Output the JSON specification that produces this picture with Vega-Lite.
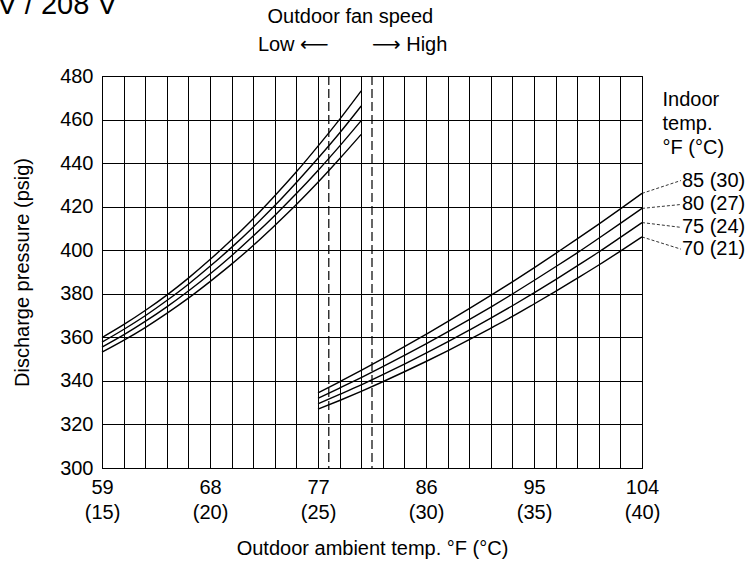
{
  "$schema": "https://vega.github.io/schema/vega-lite/v6.json",
  "width": 540,
  "height": 392,
  "autosize": {"type": "none"},
  "padding": {"left": 102, "top": 76, "right": 109, "bottom": 99},
  "background": "white",
  "config": {
    "font": "Liberation Sans",
    "view": {"stroke": "black", "strokeWidth": 1},
    "axis": {
      "labelFont": "Liberation Sans",
      "titleFont": "Liberation Sans",
      "labelFontSize": 20,
      "titleFontSize": 20,
      "titleFontWeight": "normal",
      "labelColor": "black",
      "titleColor": "black",
      "domainColor": "black",
      "gridColor": "black",
      "gridOpacity": 1,
      "gridWidth": 1,
      "ticks": false
    },
    "text": {"font": "Liberation Sans", "fontSize": 20, "color": "black"}
  },
  "datasets": {
    "curves": [
      {"indoor": "85 (30)", "fan": "Low", "t": 15, "p": 359.9},
      {"indoor": "85 (30)", "fan": "Low", "t": 16, "p": 365.8},
      {"indoor": "85 (30)", "fan": "Low", "t": 17, "p": 372.3},
      {"indoor": "85 (30)", "fan": "Low", "t": 18, "p": 379.4},
      {"indoor": "85 (30)", "fan": "Low", "t": 19, "p": 387.2},
      {"indoor": "85 (30)", "fan": "Low", "t": 20, "p": 395.7},
      {"indoor": "85 (30)", "fan": "Low", "t": 21, "p": 404.8},
      {"indoor": "85 (30)", "fan": "Low", "t": 22, "p": 414.5},
      {"indoor": "85 (30)", "fan": "Low", "t": 23, "p": 425.0},
      {"indoor": "85 (30)", "fan": "Low", "t": 24, "p": 436.0},
      {"indoor": "85 (30)", "fan": "Low", "t": 25, "p": 447.8},
      {"indoor": "85 (30)", "fan": "Low", "t": 26, "p": 460.1},
      {"indoor": "85 (30)", "fan": "Low", "t": 27, "p": 473.2},
      {"indoor": "80 (27)", "fan": "Low", "t": 15, "p": 357.8},
      {"indoor": "80 (27)", "fan": "Low", "t": 16, "p": 363.6},
      {"indoor": "80 (27)", "fan": "Low", "t": 17, "p": 369.9},
      {"indoor": "80 (27)", "fan": "Low", "t": 18, "p": 376.9},
      {"indoor": "80 (27)", "fan": "Low", "t": 19, "p": 384.4},
      {"indoor": "80 (27)", "fan": "Low", "t": 20, "p": 392.6},
      {"indoor": "80 (27)", "fan": "Low", "t": 21, "p": 401.3},
      {"indoor": "80 (27)", "fan": "Low", "t": 22, "p": 410.6},
      {"indoor": "80 (27)", "fan": "Low", "t": 23, "p": 420.5},
      {"indoor": "80 (27)", "fan": "Low", "t": 24, "p": 431.1},
      {"indoor": "80 (27)", "fan": "Low", "t": 25, "p": 442.2},
      {"indoor": "80 (27)", "fan": "Low", "t": 26, "p": 453.8},
      {"indoor": "80 (27)", "fan": "Low", "t": 27, "p": 466.2},
      {"indoor": "75 (24)", "fan": "Low", "t": 15, "p": 355.5},
      {"indoor": "75 (24)", "fan": "Low", "t": 16, "p": 361.1},
      {"indoor": "75 (24)", "fan": "Low", "t": 17, "p": 367.3},
      {"indoor": "75 (24)", "fan": "Low", "t": 18, "p": 374.0},
      {"indoor": "75 (24)", "fan": "Low", "t": 19, "p": 381.3},
      {"indoor": "75 (24)", "fan": "Low", "t": 20, "p": 389.1},
      {"indoor": "75 (24)", "fan": "Low", "t": 21, "p": 397.5},
      {"indoor": "75 (24)", "fan": "Low", "t": 22, "p": 406.5},
      {"indoor": "75 (24)", "fan": "Low", "t": 23, "p": 416.0},
      {"indoor": "75 (24)", "fan": "Low", "t": 24, "p": 426.0},
      {"indoor": "75 (24)", "fan": "Low", "t": 25, "p": 436.6},
      {"indoor": "75 (24)", "fan": "Low", "t": 26, "p": 447.8},
      {"indoor": "75 (24)", "fan": "Low", "t": 27, "p": 459.5},
      {"indoor": "70 (21)", "fan": "Low", "t": 15, "p": 353.2},
      {"indoor": "70 (21)", "fan": "Low", "t": 16, "p": 358.6},
      {"indoor": "70 (21)", "fan": "Low", "t": 17, "p": 364.5},
      {"indoor": "70 (21)", "fan": "Low", "t": 18, "p": 371.0},
      {"indoor": "70 (21)", "fan": "Low", "t": 19, "p": 378.0},
      {"indoor": "70 (21)", "fan": "Low", "t": 20, "p": 385.6},
      {"indoor": "70 (21)", "fan": "Low", "t": 21, "p": 393.6},
      {"indoor": "70 (21)", "fan": "Low", "t": 22, "p": 402.2},
      {"indoor": "70 (21)", "fan": "Low", "t": 23, "p": 411.4},
      {"indoor": "70 (21)", "fan": "Low", "t": 24, "p": 421.0},
      {"indoor": "70 (21)", "fan": "Low", "t": 25, "p": 431.2},
      {"indoor": "70 (21)", "fan": "Low", "t": 26, "p": 442.0},
      {"indoor": "70 (21)", "fan": "Low", "t": 27, "p": 453.2},
      {"indoor": "85 (30)", "fan": "High", "t": 25, "p": 334.5},
      {"indoor": "85 (30)", "fan": "High", "t": 26, "p": 339.6},
      {"indoor": "85 (30)", "fan": "High", "t": 27, "p": 344.8},
      {"indoor": "85 (30)", "fan": "High", "t": 28, "p": 350.2},
      {"indoor": "85 (30)", "fan": "High", "t": 29, "p": 355.7},
      {"indoor": "85 (30)", "fan": "High", "t": 30, "p": 361.4},
      {"indoor": "85 (30)", "fan": "High", "t": 31, "p": 367.2},
      {"indoor": "85 (30)", "fan": "High", "t": 32, "p": 373.2},
      {"indoor": "85 (30)", "fan": "High", "t": 33, "p": 379.3},
      {"indoor": "85 (30)", "fan": "High", "t": 34, "p": 385.5},
      {"indoor": "85 (30)", "fan": "High", "t": 35, "p": 391.9},
      {"indoor": "85 (30)", "fan": "High", "t": 36, "p": 398.5},
      {"indoor": "85 (30)", "fan": "High", "t": 37, "p": 405.2},
      {"indoor": "85 (30)", "fan": "High", "t": 38, "p": 412.0},
      {"indoor": "85 (30)", "fan": "High", "t": 39, "p": 419.0},
      {"indoor": "85 (30)", "fan": "High", "t": 40, "p": 426.1},
      {"indoor": "80 (27)", "fan": "High", "t": 25, "p": 332.0},
      {"indoor": "80 (27)", "fan": "High", "t": 26, "p": 336.7},
      {"indoor": "80 (27)", "fan": "High", "t": 27, "p": 341.5},
      {"indoor": "80 (27)", "fan": "High", "t": 28, "p": 346.5},
      {"indoor": "80 (27)", "fan": "High", "t": 29, "p": 351.7},
      {"indoor": "80 (27)", "fan": "High", "t": 30, "p": 357.0},
      {"indoor": "80 (27)", "fan": "High", "t": 31, "p": 362.5},
      {"indoor": "80 (27)", "fan": "High", "t": 32, "p": 368.1},
      {"indoor": "80 (27)", "fan": "High", "t": 33, "p": 373.9},
      {"indoor": "80 (27)", "fan": "High", "t": 34, "p": 379.9},
      {"indoor": "80 (27)", "fan": "High", "t": 35, "p": 386.1},
      {"indoor": "80 (27)", "fan": "High", "t": 36, "p": 392.4},
      {"indoor": "80 (27)", "fan": "High", "t": 37, "p": 398.8},
      {"indoor": "80 (27)", "fan": "High", "t": 38, "p": 405.5},
      {"indoor": "80 (27)", "fan": "High", "t": 39, "p": 412.3},
      {"indoor": "80 (27)", "fan": "High", "t": 40, "p": 419.2},
      {"indoor": "75 (24)", "fan": "High", "t": 25, "p": 329.5},
      {"indoor": "75 (24)", "fan": "High", "t": 26, "p": 333.8},
      {"indoor": "75 (24)", "fan": "High", "t": 27, "p": 338.2},
      {"indoor": "75 (24)", "fan": "High", "t": 28, "p": 342.9},
      {"indoor": "75 (24)", "fan": "High", "t": 29, "p": 347.7},
      {"indoor": "75 (24)", "fan": "High", "t": 30, "p": 352.7},
      {"indoor": "75 (24)", "fan": "High", "t": 31, "p": 357.9},
      {"indoor": "75 (24)", "fan": "High", "t": 32, "p": 363.3},
      {"indoor": "75 (24)", "fan": "High", "t": 33, "p": 368.8},
      {"indoor": "75 (24)", "fan": "High", "t": 34, "p": 374.5},
      {"indoor": "75 (24)", "fan": "High", "t": 35, "p": 380.4},
      {"indoor": "75 (24)", "fan": "High", "t": 36, "p": 386.5},
      {"indoor": "75 (24)", "fan": "High", "t": 37, "p": 392.8},
      {"indoor": "75 (24)", "fan": "High", "t": 38, "p": 399.2},
      {"indoor": "75 (24)", "fan": "High", "t": 39, "p": 405.9},
      {"indoor": "75 (24)", "fan": "High", "t": 40, "p": 412.7},
      {"indoor": "70 (21)", "fan": "High", "t": 25, "p": 327.0},
      {"indoor": "70 (21)", "fan": "High", "t": 26, "p": 331.0},
      {"indoor": "70 (21)", "fan": "High", "t": 27, "p": 335.2},
      {"indoor": "70 (21)", "fan": "High", "t": 28, "p": 339.6},
      {"indoor": "70 (21)", "fan": "High", "t": 29, "p": 344.2},
      {"indoor": "70 (21)", "fan": "High", "t": 30, "p": 348.9},
      {"indoor": "70 (21)", "fan": "High", "t": 31, "p": 353.8},
      {"indoor": "70 (21)", "fan": "High", "t": 32, "p": 358.9},
      {"indoor": "70 (21)", "fan": "High", "t": 33, "p": 364.2},
      {"indoor": "70 (21)", "fan": "High", "t": 34, "p": 369.6},
      {"indoor": "70 (21)", "fan": "High", "t": 35, "p": 375.3},
      {"indoor": "70 (21)", "fan": "High", "t": 36, "p": 381.1},
      {"indoor": "70 (21)", "fan": "High", "t": 37, "p": 387.1},
      {"indoor": "70 (21)", "fan": "High", "t": 38, "p": 393.2},
      {"indoor": "70 (21)", "fan": "High", "t": 39, "p": 399.6},
      {"indoor": "70 (21)", "fan": "High", "t": 40, "p": 406.1}
    ],
    "labels": [
      {"indoor": "85 (30)", "t": 40, "t2": 41.8, "p": 426.1, "p2": 432},
      {"indoor": "80 (27)", "t": 40, "t2": 41.8, "p": 419.2, "p2": 421},
      {"indoor": "75 (24)", "t": 40, "t2": 41.8, "p": 412.7, "p2": 410.5},
      {"indoor": "70 (21)", "t": 40, "t2": 41.8, "p": 406.1, "p2": 400.5}
    ],
    "switch": [{"t": 25.5}, {"t": 27.5}],
    "one": [{}]
  },
  "layer": [
    {
      "data": {"name": "curves"},
      "mark": {"type": "line", "color": "black", "strokeWidth": 1.4, "interpolate": "monotone"},
      "encoding": {
        "x": {"field": "t", "type": "quantitative", "scale": {"domain": [15, 40], "nice": false, "zero": false}, "title": "Outdoor ambient temp. °F (°C)",
          "axis": {"values": [15,16,17,18,19,20,21,22,23,24,25,26,27,28,29,30,31,32,33,34,35,36,37,38,39,40], "labelExpr": "datum.value % 5 === 0 ? [format(datum.value * 1.8 + 32, 'd'), '(' + datum.value + ')'] : ''", "labelOverlap": false, "labelFlush": false, "labelBound": false, "labelPadding": 9, "labelLineHeight": 25, "titlePadding": 16}},
        "y": {"field": "p", "type": "quantitative", "scale": {"domain": [300, 480], "nice": false, "zero": false}, "title": "Discharge pressure (psig)",
          "axis": {"values": [300,320,340,360,380,400,420,440,460,480], "labelPadding": 9, "titlePadding": 27}},
        "detail": [{"field": "indoor"}, {"field": "fan"}]
      }
    },
    {
      "data": {"name": "switch"},
      "mark": {"type": "rule", "color": "black", "strokeWidth": 1.2, "strokeDash": [9, 4]},
      "encoding": {
        "x": {"field": "t", "type": "quantitative", "scale": {"domain": [15, 40], "nice": false, "zero": false}, "title": "Outdoor ambient temp. °F (°C)",
          "axis": {"values": [15,16,17,18,19,20,21,22,23,24,25,26,27,28,29,30,31,32,33,34,35,36,37,38,39,40], "labelExpr": "datum.value % 5 === 0 ? [format(datum.value * 1.8 + 32, 'd'), '(' + datum.value + ')'] : ''", "labelOverlap": false, "labelFlush": false, "labelBound": false, "labelPadding": 9, "labelLineHeight": 25, "titlePadding": 16}}
      }
    },
    {
      "data": {"name": "labels"},
      "mark": {"type": "rule", "color": "black", "strokeWidth": 0.8, "strokeDash": [3, 2]},
      "encoding": {
        "x": {"field": "t", "type": "quantitative", "scale": {"domain": [15, 40], "nice": false, "zero": false}, "title": "Outdoor ambient temp. °F (°C)",
          "axis": {"values": [15,16,17,18,19,20,21,22,23,24,25,26,27,28,29,30,31,32,33,34,35,36,37,38,39,40], "labelExpr": "datum.value % 5 === 0 ? [format(datum.value * 1.8 + 32, 'd'), '(' + datum.value + ')'] : ''", "labelOverlap": false, "labelFlush": false, "labelBound": false, "labelPadding": 9, "labelLineHeight": 25, "titlePadding": 16}},
        "x2": {"field": "t2"},
        "y": {"field": "p", "type": "quantitative", "scale": {"domain": [300, 480], "nice": false, "zero": false}, "title": "Discharge pressure (psig)",
          "axis": {"values": [300,320,340,360,380,400,420,440,460,480], "labelPadding": 9, "titlePadding": 27}},
        "y2": {"field": "p2"}
      }
    },
    {
      "data": {"name": "labels"},
      "mark": {"type": "text", "align": "left", "baseline": "middle", "dx": 1},
      "encoding": {
        "x": {"field": "t2", "type": "quantitative", "scale": {"domain": [15, 40], "nice": false, "zero": false}, "title": "Outdoor ambient temp. °F (°C)",
          "axis": {"values": [15,16,17,18,19,20,21,22,23,24,25,26,27,28,29,30,31,32,33,34,35,36,37,38,39,40], "labelExpr": "datum.value % 5 === 0 ? [format(datum.value * 1.8 + 32, 'd'), '(' + datum.value + ')'] : ''", "labelOverlap": false, "labelFlush": false, "labelBound": false, "labelPadding": 9, "labelLineHeight": 25, "titlePadding": 16}},
        "y": {"field": "p2", "type": "quantitative", "scale": {"domain": [300, 480], "nice": false, "zero": false}, "title": "Discharge pressure (psig)",
          "axis": {"values": [300,320,340,360,380,400,420,440,460,480], "labelPadding": 9, "titlePadding": 27}},
        "text": {"field": "indoor"}
      }
    },
    {
      "data": {"name": "one"},
      "mark": {"type": "text", "align": "left", "baseline": "middle", "lineHeight": 24, "text": ["Indoor", "temp.", "°F (°C)"]},
      "encoding": {
        "x": {"datum": 40.95, "type": "quantitative", "scale": {"domain": [15, 40], "nice": false, "zero": false}, "title": "Outdoor ambient temp. °F (°C)",
          "axis": {"values": [15,16,17,18,19,20,21,22,23,24,25,26,27,28,29,30,31,32,33,34,35,36,37,38,39,40], "labelExpr": "datum.value % 5 === 0 ? [format(datum.value * 1.8 + 32, 'd'), '(' + datum.value + ')'] : ''", "labelOverlap": false, "labelFlush": false, "labelBound": false, "labelPadding": 9, "labelLineHeight": 25, "titlePadding": 16}},
        "y": {"datum": 469, "type": "quantitative", "scale": {"domain": [300, 480], "nice": false, "zero": false}, "title": "Discharge pressure (psig)",
          "axis": {"values": [300,320,340,360,380,400,420,440,460,480], "labelPadding": 9, "titlePadding": 27}}
      }
    },
    {
      "data": {"name": "one"},
      "mark": {"type": "text", "align": "center", "baseline": "middle", "text": "Outdoor fan speed"},
      "encoding": {
        "x": {"datum": 26.5, "type": "quantitative", "scale": {"domain": [15, 40], "nice": false, "zero": false}, "title": "Outdoor ambient temp. °F (°C)",
          "axis": {"values": [15,16,17,18,19,20,21,22,23,24,25,26,27,28,29,30,31,32,33,34,35,36,37,38,39,40], "labelExpr": "datum.value % 5 === 0 ? [format(datum.value * 1.8 + 32, 'd'), '(' + datum.value + ')'] : ''", "labelOverlap": false, "labelFlush": false, "labelBound": false, "labelPadding": 9, "labelLineHeight": 25, "titlePadding": 16}},
        "y": {"datum": 507.3, "type": "quantitative", "scale": {"domain": [300, 480], "nice": false, "zero": false}, "title": "Discharge pressure (psig)",
          "axis": {"values": [300,320,340,360,380,400,420,440,460,480], "labelPadding": 9, "titlePadding": 27}}
      }
    },
    {
      "data": {"name": "one"},
      "mark": {"type": "text", "align": "right", "baseline": "middle", "font": "Liberation Sans, DejaVu Sans", "text": "Low ⟵"},
      "encoding": {
        "x": {"datum": 25.5, "type": "quantitative", "scale": {"domain": [15, 40], "nice": false, "zero": false}, "title": "Outdoor ambient temp. °F (°C)",
          "axis": {"values": [15,16,17,18,19,20,21,22,23,24,25,26,27,28,29,30,31,32,33,34,35,36,37,38,39,40], "labelExpr": "datum.value % 5 === 0 ? [format(datum.value * 1.8 + 32, 'd'), '(' + datum.value + ')'] : ''", "labelOverlap": false, "labelFlush": false, "labelBound": false, "labelPadding": 9, "labelLineHeight": 25, "titlePadding": 16}},
        "y": {"datum": 494.3, "type": "quantitative", "scale": {"domain": [300, 480], "nice": false, "zero": false}, "title": "Discharge pressure (psig)",
          "axis": {"values": [300,320,340,360,380,400,420,440,460,480], "labelPadding": 9, "titlePadding": 27}}
      }
    },
    {
      "data": {"name": "one"},
      "mark": {"type": "text", "align": "left", "baseline": "middle", "font": "Liberation Sans, DejaVu Sans", "text": "⟶ High"},
      "encoding": {
        "x": {"datum": 27.5, "type": "quantitative", "scale": {"domain": [15, 40], "nice": false, "zero": false}, "title": "Outdoor ambient temp. °F (°C)",
          "axis": {"values": [15,16,17,18,19,20,21,22,23,24,25,26,27,28,29,30,31,32,33,34,35,36,37,38,39,40], "labelExpr": "datum.value % 5 === 0 ? [format(datum.value * 1.8 + 32, 'd'), '(' + datum.value + ')'] : ''", "labelOverlap": false, "labelFlush": false, "labelBound": false, "labelPadding": 9, "labelLineHeight": 25, "titlePadding": 16}},
        "y": {"datum": 494.3, "type": "quantitative", "scale": {"domain": [300, 480], "nice": false, "zero": false}, "title": "Discharge pressure (psig)",
          "axis": {"values": [300,320,340,360,380,400,420,440,460,480], "labelPadding": 9, "titlePadding": 27}}
      }
    },
    {
      "data": {"name": "one"},
      "mark": {"type": "text", "align": "left", "baseline": "alphabetic", "fontSize": 29, "text": "V / 208 V"},
      "encoding": {
        "x": {"datum": 10.16, "type": "quantitative", "scale": {"domain": [15, 40], "nice": false, "zero": false}, "title": "Outdoor ambient temp. °F (°C)",
          "axis": {"values": [15,16,17,18,19,20,21,22,23,24,25,26,27,28,29,30,31,32,33,34,35,36,37,38,39,40], "labelExpr": "datum.value % 5 === 0 ? [format(datum.value * 1.8 + 32, 'd'), '(' + datum.value + ')'] : ''", "labelOverlap": false, "labelFlush": false, "labelBound": false, "labelPadding": 9, "labelLineHeight": 25, "titlePadding": 16}},
        "y": {"datum": 508.3, "type": "quantitative", "scale": {"domain": [300, 480], "nice": false, "zero": false}, "title": "Discharge pressure (psig)",
          "axis": {"values": [300,320,340,360,380,400,420,440,460,480], "labelPadding": 9, "titlePadding": 27}}
      }
    }
  ]
}
